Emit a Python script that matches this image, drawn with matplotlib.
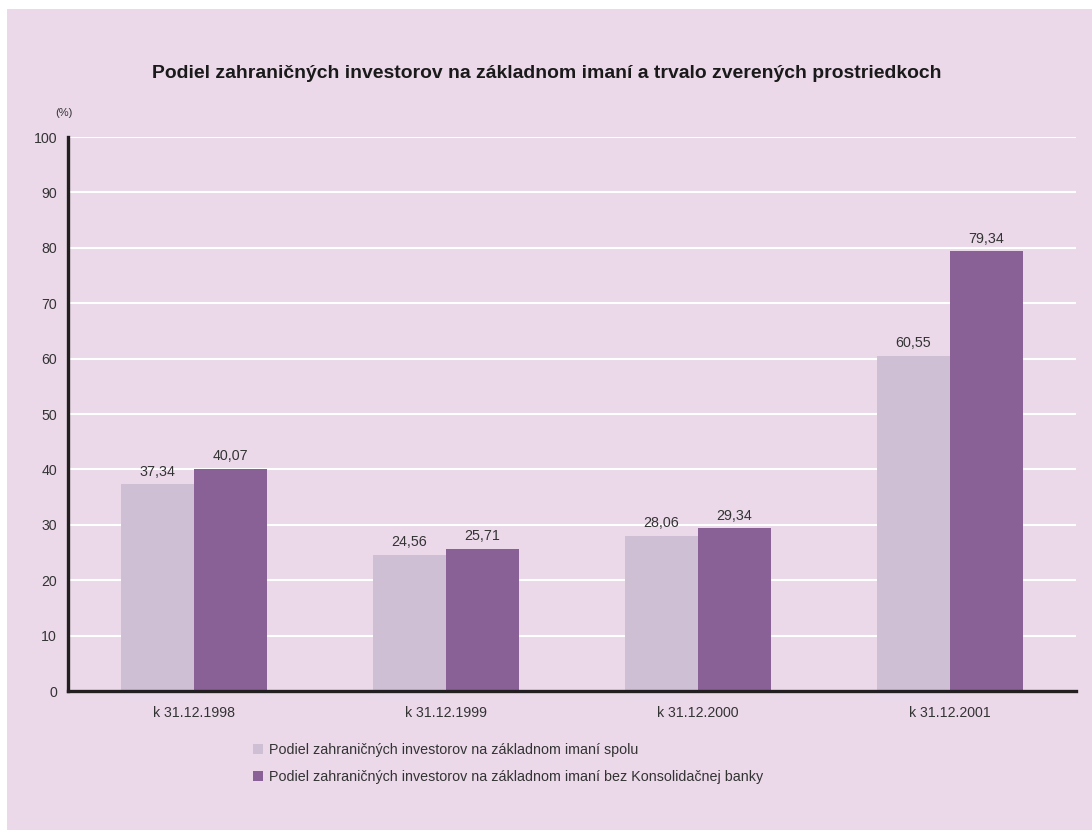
import numpy as np
import matplotlib
matplotlib.use('Agg')
import matplotlib.pyplot as plt
from matplotlib.patches import Rectangle

categories = ['k 31.12.1998', 'k 31.12.1999', 'k 31.12.2000', 'k 31.12.2001']
spolu = [37.34, 24.56, 28.06, 60.55]
bez_kb = [40.07, 25.71, 29.34, 79.34]
labels_spolu = ['37,34', '24,56', '28,06', '60,55']
labels_bez = ['40,07', '25,71', '29,34', '79,34']
series_names = ['Podiel zahraničných investorov na základnom imaní spolu',
                'Podiel zahraničných investorov na základnom imaní bez Konsolidačnej banky']
title = 'Podiel zahraničných investorov na základnom imaní a trvalo zverených prostriedkoch'

bg = '#EBD9EA'
light = '#CEBFD4'
dark = '#8A6196'
txt = '#333333'

plt.rcParams['font.family'] = ['Liberation Sans', 'DejaVu Sans']

fig = plt.figure(figsize=(10.92, 8.3), dpi=100)
fig.patch.set_facecolor('white')
fig.patches.append(Rectangle((7 / 1092, -0.05), 1.1, 1.05 - 9 / 830, transform=fig.transFigure,
                             facecolor=bg, edgecolor='none', zorder=-10))

ax = fig.add_axes([68 / 1092, 1 - 691 / 830, (1076 - 68) / 1092, (691 - 137) / 830])
ax.set_facecolor('none')

x = np.arange(len(categories))
w = 0.29
b1 = ax.bar(x - w / 2, spolu, w, color=light, label=series_names[0], zorder=2)
b2 = ax.bar(x + w / 2, bez_kb, w, color=dark, label=series_names[1], zorder=2)

for xi, v, s in zip(x, spolu, labels_spolu):
    ax.text(xi - w / 2, v + 1.0, s, ha='center', va='bottom', fontsize=10.3, color=txt)
for xi, v, s in zip(x, bez_kb, labels_bez):
    ax.text(xi + w / 2, v + 1.0, s, ha='center', va='bottom', fontsize=10.3, color=txt)

ax.set_xlim(-0.5, 3.5)
ax.set_ylim(0, 100)
ax.set_yticks(np.arange(0, 101, 10))
ax.set_xticks(x)
ax.set_xticklabels(categories)
ax.tick_params(axis='both', length=0, labelsize=10.2, colors=txt)
ax.tick_params(axis='y', pad=8)
ax.tick_params(axis='x', pad=11)
ax.yaxis.grid(True, color='white', linewidth=1.5, zorder=1)
ax.set_axisbelow(True)
for s in ['top', 'right']:
    ax.spines[s].set_visible(False)
for s in ['left', 'bottom']:
    ax.spines[s].set_linewidth(2.4)
    ax.spines[s].set_color('#231F20')

fig.text(64 / 1092, 1 - 113 / 830, '(%)', ha='center', va='center', fontsize=8, color=txt)
t = fig.text(547 / 1092, 1 - 73 / 830, title, ha='center', va='center', fontsize=12,
             fontweight='bold', color='#1a1a1a')
# stretch the title to the width of the original heavy type (about 787 px)
fig.canvas.draw()
tw = t.get_window_extent(fig.canvas.get_renderer()).width
t.set_fontsize(12 * 787 / tw)

fig.legend(handles=[b1, b2], loc='upper left', bbox_to_anchor=(247 / 1092, 1 - 737 / 830),
           frameon=False, fontsize=10.3, handlelength=0.72, handleheight=0.72,
           handletextpad=0.4, labelspacing=0.95, borderaxespad=0, labelcolor=txt)

fig.savefig('out.png', dpi=100, facecolor=fig.get_facecolor())
